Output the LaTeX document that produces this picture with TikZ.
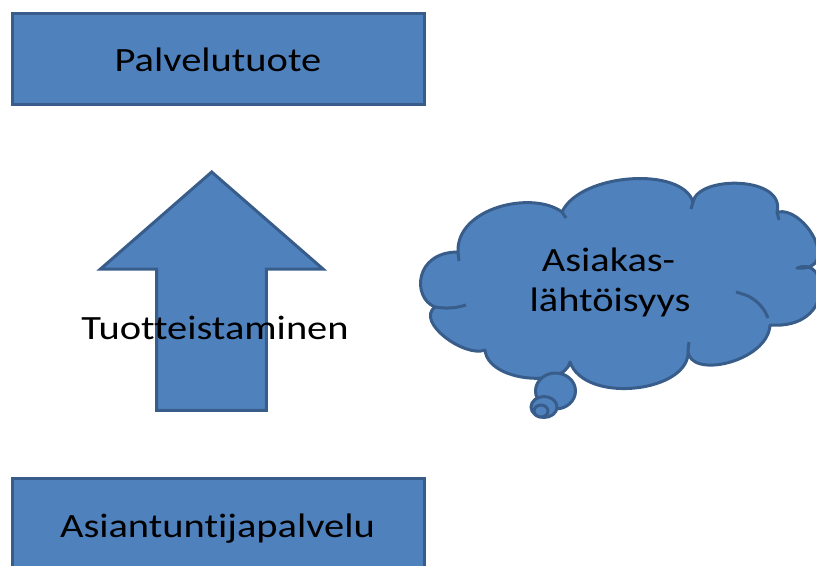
\documentclass[tikz,border=0pt]{standalone}
\usepackage{fontspec}
\setmainfont{Carlito}[FakeStretch=1.19,Ligatures=NoCommon]
\definecolor{shapefill}{HTML}{4F81BD}
\definecolor{shapeline}{HTML}{385D8A}
\begin{document}
\begin{tikzpicture}[x=1pt,y=-1pt,
  bluebox/.style={fill=shapefill,draw=shapeline,line width=3pt,inner sep=0pt},
  bluepath/.style={fill=shapefill,draw=shapeline,line width=3pt,line join=miter},
  stub/.style={draw=shapeline,line width=3pt},
  txt/.style={font=\fontsize{34}{40}\selectfont,inner sep=0pt,text=black}]
\useasboundingbox (0,0) rectangle (816,565);
\clip (0,0) rectangle (816,565);

% boxes
\node[bluebox,minimum width=412pt,minimum height=91.5pt] (product) at (218.5,58.75) {};
\node[txt,anchor=base] (productlabel) at (218,71.7) {Palvelutuote};
\node[bluebox,minimum width=412pt,minimum height=121.5pt] (expert) at (218.5,539.25) {};
\node[txt,anchor=base] (expertlabel) at (217.5,537) {Asiantuntijapalvelu};

% block arrow pointing up
\draw[bluepath] (211.7,172) -- (323,269) -- (266.3,269) -- (266.3,410.3)
  -- (156.5,410.3) -- (156.5,269) -- (100.5,269) -- cycle;
\node[txt,anchor=base] (arrowlabel) at (215,339.3) {Tuotteistaminen};

% thought cloud
\draw[bluepath,line join=round]
  (435,307) .. controls (412,298) and (414,252) .. (458,252)
  .. controls (456,208) and (532,190) .. (562,212)
  .. controls (580,173) and (682,166) .. (693,202)
  .. controls (698,175) and (786,176) .. (777,212)
  .. controls (806,206) and (842,272) .. (797,268)
  .. controls (830,255) and (835,330) .. (770,325)
  .. controls (768,362) and (688,380) .. (688,350)
  .. controls (692,392) and (585,405) .. (570,362)
  .. controls (565,388) and (488,382) .. (485,350)
  .. controls (465,358) and (415,322) .. (435,307) -- cycle;
% inner arc ends of the cloud
\draw[stub] (458,252) -- (459,261);
\draw[stub] (435,307) .. controls (447,309) and (456,308) .. (466,305);
\draw[stub] (562,212) -- (566,218);
\draw[stub] (693,202) -- (691,209);
\draw[stub] (777,212) -- (779,220);
\draw[stub] plot[smooth] coordinates {(736,292) (748,296) (757,302) (764,310) (768,318)};
\draw[stub] (688,350) -- (689,342);

% trailing bubbles
\draw[bluepath] (555.5,391) ellipse [x radius=20pt, y radius=18pt];
\draw[bluepath] (544,407) ellipse [x radius=13pt, y radius=10.5pt];
\draw[bluepath] (541,411) ellipse [x radius=7pt, y radius=6pt];

\node[txt,anchor=base] (cloudlabelA) at (608.5,271.7) {Asiakas-};
\node[txt,anchor=base] (cloudlabelB) at (610,311.7) {lähtöisyys};
\end{tikzpicture}
\end{document}
